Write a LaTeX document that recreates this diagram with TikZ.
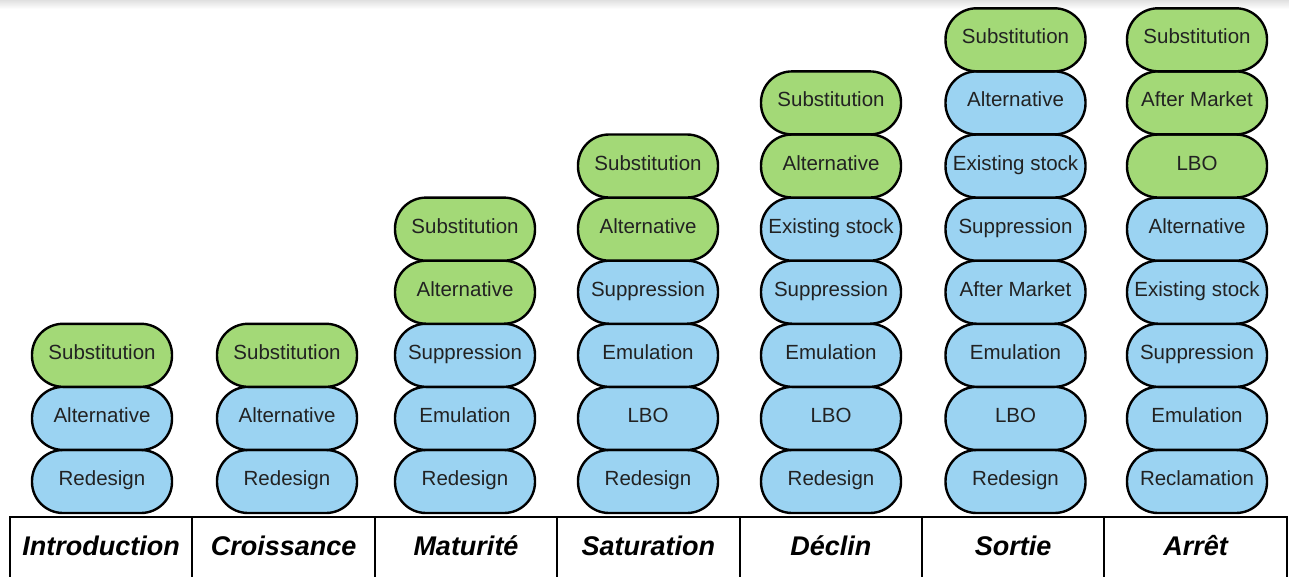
\documentclass[tikz,border=0pt]{standalone}
\usepackage{fontspec}
\setmainfont{Liberation Sans}
\definecolor{pgreen}{RGB}{163,217,119}
\definecolor{pblue}{RGB}{155,211,242}
\definecolor{ptext}{RGB}{34,34,34}
\begin{document}
\begin{tikzpicture}[x=1pt,y=-1pt,
  pill/.style={draw=black, line width=2.4pt, rounded corners=31pt, minimum width=140pt, minimum height=63pt, inner sep=0pt, text height=12pt, text depth=4pt, text=ptext, font=\fontsize{20.5}{23}\selectfont},
  g/.style={pill, fill=pgreen},
  b/.style={pill, fill=pblue},
  cell/.style={draw=black, line width=2pt, minimum width=182.4pt, minimum height=64pt, inner sep=0pt, text height=16pt, text depth=3pt, anchor=north, font=\fontsize{27}{30}\selectfont\bfseries\itshape}]
\clip (0,0) rectangle (1289,576);
\fill[white] (0,0) rectangle (1289,576);
\shade[top color=black!12, bottom color=white] (0,0) rectangle (1289,9);
% columns
\foreach \k/\s/\t in {0/b/Redesign,1/b/Alternative,2/g/Substitution}
  \node[\s] (c1-\k) at (102,{481.5-63.1*\k}) {\t};
\foreach \k/\s/\t in {0/b/Redesign,1/b/Alternative,2/g/Substitution}
  \node[\s] (c2-\k) at (287,{481.5-63.1*\k}) {\t};
\foreach \k/\s/\t in {0/b/Redesign,1/b/Emulation,2/b/Suppression,3/g/Alternative,4/g/Substitution}
  \node[\s] (c3-\k) at (465,{481.5-63.1*\k}) {\t};
\foreach \k/\s/\t in {0/b/Redesign,1/b/LBO,2/b/Emulation,3/b/Suppression,4/g/Alternative,5/g/Substitution}
  \node[\s] (c4-\k) at (648,{481.5-63.1*\k}) {\t};
\foreach \k/\s/\t in {0/b/Redesign,1/b/LBO,2/b/Emulation,3/b/Suppression,4/b/Existing stock,5/g/Alternative,6/g/Substitution}
  \node[\s] (c5-\k) at (831,{481.5-63.1*\k}) {\t};
\foreach \k/\s/\t in {0/b/Redesign,1/b/LBO,2/b/Emulation,3/b/After Market,4/b/Suppression,5/b/Existing stock,6/b/Alternative,7/g/Substitution}
  \node[\s] (c6-\k) at (1015.5,{481.5-63.1*\k}) {\t};
\foreach \k/\s/\t in {0/b/Reclamation,1/b/Emulation,2/b/Suppression,3/b/Existing stock,4/b/Alternative,5/g/LBO,6/g/After Market,7/g/Substitution}
  \node[\s] (c7-\k) at (1197,{481.5-63.1*\k}) {\t};
% header table
\foreach \i/\t in {0/Introduction,1/Croissance,2/Maturité,3/Saturation,4/Déclin,5/Sortie,6/Arrêt}
  \node[cell] (h\i) at ({10+182.4*\i+91.2},516) {\t};
\end{tikzpicture}
\end{document}
